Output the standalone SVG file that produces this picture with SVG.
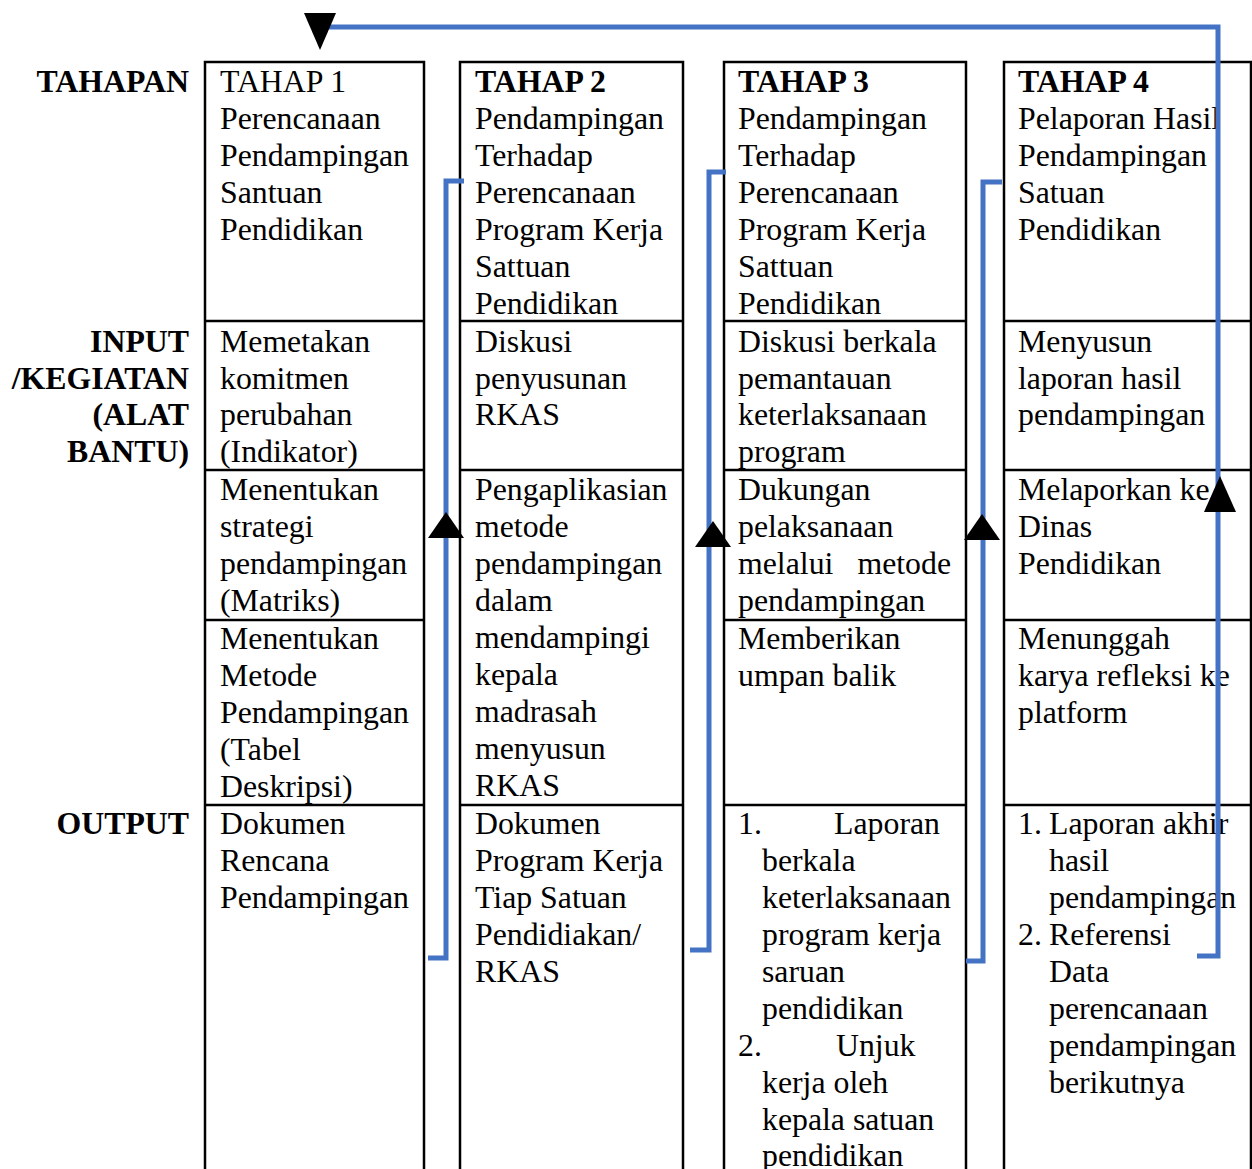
<svg xmlns="http://www.w3.org/2000/svg" width="1252" height="1169" viewBox="0 0 1252 1169">
<style>
  text { font-family: 'Liberation Serif', 'DejaVu Serif', serif; font-size: 31.8px; fill: #000; }
  .b { font-weight: bold; }
  .lbl { font-weight: bold; text-anchor: end; }
  .box { fill: none; stroke: #000; stroke-width: 2.5; }
  .row { stroke: #000; stroke-width: 2.5; }
  .conn { fill: none; stroke: #4472C4; stroke-width: 5; }
  .head { fill: #000; }
</style>
<rect width="1252" height="1169" fill="#fff"/>

<g id="labels">
  <text class="lbl" x="189" y="92">TAHAPAN</text>
  <text class="lbl" x="189" y="352">INPUT</text>
  <text class="lbl" x="189" y="389">/KEGIATAN</text>
  <text class="lbl" x="189" y="425">(ALAT</text>
  <text class="lbl" x="189" y="462">BANTU)</text>
  <text class="lbl" x="189" y="834">OUTPUT</text>
</g>

<g id="tahap1">
  <rect class="box" x="205" y="62" width="219" height="1130"/>
  <line class="row" x1="205" y1="321" x2="424" y2="321"/>
  <line class="row" x1="205" y1="470" x2="424" y2="470"/>
  <line class="row" x1="205" y1="620" x2="424" y2="620"/>
  <line class="row" x1="205" y1="805" x2="424" y2="805"/>
  <text x="220" y="92">TAHAP 1</text>
  <text x="220" y="129">Perencanaan</text>
  <text x="220" y="166">Pendampingan</text>
  <text x="220" y="203">Santuan</text>
  <text x="220" y="240">Pendidikan</text>
  <text x="220" y="352">Memetakan</text>
  <text x="220" y="388.5">komitmen</text>
  <text x="220" y="425">perubahan</text>
  <text x="220" y="461.5">(Indikator)</text>
  <text x="220" y="500">Menentukan</text>
  <text x="220" y="537">strategi</text>
  <text x="220" y="574">pendampingan</text>
  <text x="220" y="611">(Matriks)</text>
  <text x="220" y="649">Menentukan</text>
  <text x="220" y="686">Metode</text>
  <text x="220" y="723">Pendampingan</text>
  <text x="220" y="760">(Tabel</text>
  <text x="220" y="797">Deskripsi)</text>
  <text x="220" y="834">Dokumen</text>
  <text x="220" y="871">Rencana</text>
  <text x="220" y="908">Pendampingan</text>
</g>

<g id="tahap2">
  <rect class="box" x="460" y="62" width="223" height="1130"/>
  <line class="row" x1="460" y1="321" x2="683" y2="321"/>
  <line class="row" x1="460" y1="470" x2="683" y2="470"/>
  <line class="row" x1="460" y1="805" x2="683" y2="805"/>
  <text class="b" x="475" y="92">TAHAP 2</text>
  <text x="475" y="129">Pendampingan</text>
  <text x="475" y="166">Terhadap</text>
  <text x="475" y="203">Perencanaan</text>
  <text x="475" y="240">Program Kerja</text>
  <text x="475" y="277">Sattuan</text>
  <text x="475" y="314">Pendidikan</text>
  <text x="475" y="352">Diskusi</text>
  <text x="475" y="388.5">penyusunan</text>
  <text x="475" y="425">RKAS</text>
  <text x="475" y="500">Pengaplikasian</text>
  <text x="475" y="537">metode</text>
  <text x="475" y="574">pendampingan</text>
  <text x="475" y="611">dalam</text>
  <text x="475" y="648">mendampingi</text>
  <text x="475" y="685">kepala</text>
  <text x="475" y="722">madrasah</text>
  <text x="475" y="759">menyusun</text>
  <text x="475" y="796">RKAS</text>
  <text x="475" y="834">Dokumen</text>
  <text x="475" y="871">Program Kerja</text>
  <text x="475" y="908">Tiap Satuan</text>
  <text x="475" y="945">Pendidiakan/</text>
  <text x="475" y="982">RKAS</text>
</g>

<g id="tahap3">
  <rect class="box" x="724" y="62" width="242" height="1130"/>
  <line class="row" x1="724" y1="321" x2="966" y2="321"/>
  <line class="row" x1="724" y1="470" x2="966" y2="470"/>
  <line class="row" x1="724" y1="620" x2="966" y2="620"/>
  <line class="row" x1="724" y1="805" x2="966" y2="805"/>
  <text class="b" x="738" y="92">TAHAP 3</text>
  <text x="738" y="129">Pendampingan</text>
  <text x="738" y="166">Terhadap</text>
  <text x="738" y="203">Perencanaan</text>
  <text x="738" y="240">Program Kerja</text>
  <text x="738" y="277">Sattuan</text>
  <text x="738" y="314">Pendidikan</text>
  <text x="738" y="352">Diskusi berkala</text>
  <text x="738" y="388.5">pemantauan</text>
  <text x="738" y="425">keterlaksanaan</text>
  <text x="738" y="461.5">program</text>
  <text x="738" y="500">Dukungan</text>
  <text x="738" y="537">pelaksanaan</text>
  <text x="738" y="574">melalui</text>
  <text x="951" y="574" text-anchor="end">metode</text>
  <text x="738" y="611">pendampingan</text>
  <text x="738" y="649">Memberikan</text>
  <text x="738" y="686">umpan balik</text>
  <text x="738" y="834">1.</text>
  <text x="940" y="834" text-anchor="end">Laporan</text>
  <text x="762" y="871">berkala</text>
  <text x="762" y="908">keterlaksanaan</text>
  <text x="762" y="945">program kerja</text>
  <text x="762" y="982">saruan</text>
  <text x="762" y="1019">pendidikan</text>
  <text x="738" y="1056">2.</text>
  <text x="836" y="1056">Unjuk</text>
  <text x="762" y="1093">kerja oleh</text>
  <text x="762" y="1130">kepala satuan</text>
  <text x="762" y="1166">pendidikan</text>
</g>

<g id="tahap4">
  <rect class="box" x="1004" y="62" width="247" height="1130"/>
  <line class="row" x1="1004" y1="321" x2="1251" y2="321"/>
  <line class="row" x1="1004" y1="470" x2="1251" y2="470"/>
  <line class="row" x1="1004" y1="620" x2="1251" y2="620"/>
  <line class="row" x1="1004" y1="805" x2="1251" y2="805"/>
  <text class="b" x="1018" y="92">TAHAP 4</text>
  <text x="1018" y="129">Pelaporan Hasil</text>
  <text x="1018" y="166">Pendampingan</text>
  <text x="1018" y="203">Satuan</text>
  <text x="1018" y="240">Pendidikan</text>
  <text x="1018" y="352">Menyusun</text>
  <text x="1018" y="388.5">laporan hasil</text>
  <text x="1018" y="425">pendampingan</text>
  <text x="1018" y="500">Melaporkan ke</text>
  <text x="1018" y="537">Dinas</text>
  <text x="1018" y="574">Pendidikan</text>
  <text x="1018" y="649">Menunggah</text>
  <text x="1018" y="686">karya refleksi ke</text>
  <text x="1018" y="723">platform</text>
  <text x="1018" y="834">1.</text>
  <text x="1049" y="834">Laporan akhir</text>
  <text x="1049" y="871">hasil</text>
  <text x="1049" y="908">pendampingan</text>
  <text x="1018" y="945">2.</text>
  <text x="1049" y="945">Referensi</text>
  <text x="1049" y="982">Data</text>
  <text x="1049" y="1019">perencanaan</text>
  <text x="1049" y="1056">pendampingan</text>
  <text x="1049" y="1093">berikutnya</text>
</g>

<g id="connectors">
  <path class="conn" d="M428,958 H446 V181 H464"/>
  <path class="conn" d="M690,950 H709 V172 H726"/>
  <path class="conn" d="M966,961 H983 V182 H1002"/>
  <path class="conn" d="M1197,956 H1218 V27 H325"/>
  <polygon class="head" points="446,512 464,538 428,538"/>
  <polygon class="head" points="713,521 731,547 695,547"/>
  <polygon class="head" points="982,514 1000,540 964,540"/>
  <polygon class="head" points="1220,476 1236,512 1204,512"/>
  <polygon class="head" points="320,50 336,13 304,13"/>
</g>
</svg>
